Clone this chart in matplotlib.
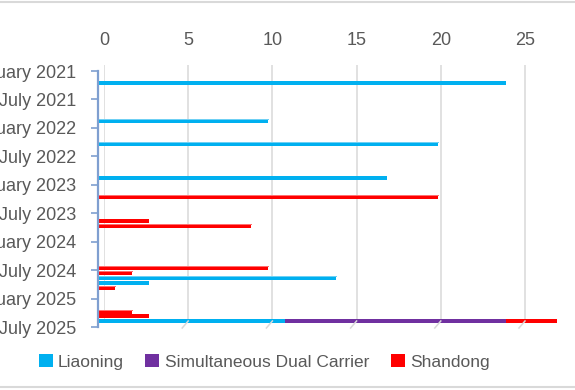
import matplotlib
matplotlib.use("Agg")
import matplotlib.pyplot as plt
import matplotlib.dates as mdates
from matplotlib.lines import Line2D
from matplotlib.patches import Patch
import numpy as np
import pandas as pd

plt.rcParams["font.family"] = ["Liberation Sans", "DejaVu Sans"]

# deployment start dates and days at sea per carrier (stacked, like the Excel source)
dates = ["2021-03-17", "2021-11-18", "2022-04-16", "2022-11-16", "2023-03-22",
         "2023-08-19", "2023-09-24", "2024-06-19", "2024-07-22", "2024-08-23",
         "2024-09-20", "2024-10-24", "2025-03-29", "2025-04-20", "2025-05-22"]
liaoning = [24, 10, 20, 17, 0, 0, 0, 0, 0, 14, 3, 0, 0, 0, 11]
dual_carrier = [0, 0, 0, 0, 0, 0, 0, 0, 0, 0, 0, 0, 0, 0, 13]
shandong = [0, 0, 0, 0, 20, 3, 9, 10, 2, 0, 0, 1, 2, 3, 3]
series = [("Liaoning", liaoning, "#00B0F0", "#6FD0F4"),
          ("Simultaneous Dual Carrier", dual_carrier, "#7030A0", "#A07CC0"),
          ("Shandong", shandong, "#FF0000", "#FF7070")]
x_ticks = [0, 5, 10, 15, 20, 25]

W, H = 575, 390
TXT = "#595959"
fig = plt.figure(figsize=(W / 100, H / 100), dpi=100)

# back wall: gridlines + value labels on top (Excel 3D chart, slightly offset)
back = fig.add_axes([104 / W, (H - 321) / H, 28 * 16.84 / W, (321 - 65) / H])
back.set_xlim(0, 28)
back.set_ylim(0, 1)
back.set_xticks(x_ticks)
back.set_yticks([])
back.grid(axis="x", color="#D9D9D9", lw=1.1)
back.xaxis.tick_top()
back.tick_params(axis="x", length=0, pad=11.5, labelsize=13, labelcolor=TXT)
for s in back.spines.values():
    s.set_visible(False)
back.set_facecolor("none")

# small depth stubs at the foot of each gridline
for v in x_ticks[1:]:
    px = 104 + v * 16.84
    fig.add_artist(Line2D([px / W, (px - 6) / W], [(H - 321) / H, (H - 328) / H],
                          color="#D9D9D9", lw=1.1))

# front: bars and date axis
ax = fig.add_axes([98 / W, (H - 327) / H, 28 * 17 / W, 256 / H])
ax.set_facecolor("none")
y = mdates.date2num(pd.to_datetime(dates))
left = np.zeros(len(dates))
bar_h = 27  # days, ~4 px
for name, vals, color, light in series:
    vals = np.array(vals, dtype=float)
    m = vals > 0
    ax.barh(y[m], vals[m], left=left[m], height=bar_h, color=color, lw=0)
    # lighter top face of the 3D bar
    ax.barh(y[m] - bar_h / 2 + 2.5, vals[m], left=left[m] + 0.08, height=5,
            color=light, lw=0)
    left += vals

ax.set_xlim(0, 28)
ax.set_ylim(mdates.date2num(pd.Timestamp("2025-07-01")),
            mdates.date2num(pd.Timestamp("2021-01-01")))
ax.yaxis.set_major_locator(mdates.MonthLocator(bymonth=[1, 7]))
ax.yaxis.set_major_formatter(mdates.DateFormatter("%B %Y"))
ax.set_xticks([])
ax.tick_params(axis="y", length=5, width=1.2, color="#7F9FD0", pad=11,
               labelsize=13, labelcolor=TXT)
for k in ["top", "right", "bottom"]:
    ax.spines[k].set_visible(False)
ax.spines["left"].set_color("#7F9FD0")
ax.spines["left"].set_linewidth(1.6)

handles = [Patch(facecolor=c, edgecolor="none", label=n) for n, _, c, _ in series]
fig.legend(handles=handles, loc="center", bbox_to_anchor=(264 / W, 1 - 362 / H),
           ncol=3, frameon=False, fontsize=12.5, labelcolor=TXT,
           handlelength=0.8, handleheight=0.8, handletextpad=0.3,
           columnspacing=1.25, borderaxespad=0)

# chart frame edges visible in the crop
for yy in [2, 387]:
    fig.add_artist(Line2D([0, 1], [1 - yy / H, 1 - yy / H], color="#D9D9D9", lw=1.5))

fig.savefig("out.png", dpi=100)
